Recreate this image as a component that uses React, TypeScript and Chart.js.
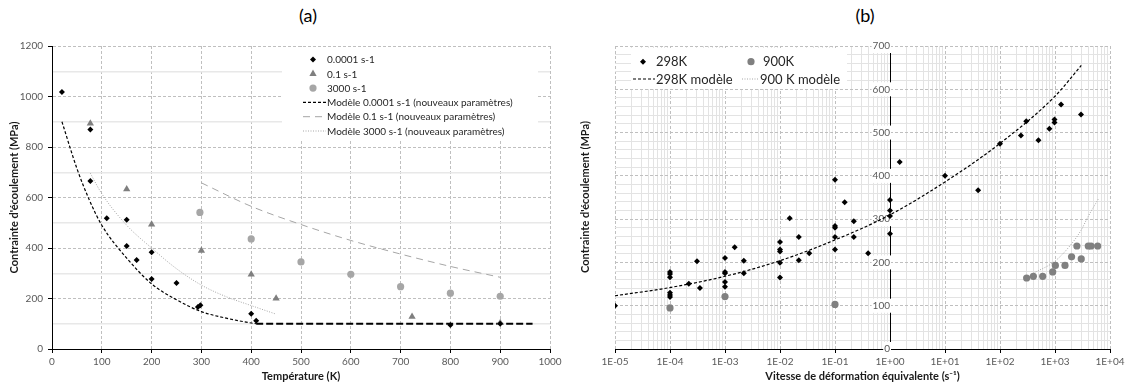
import React, { useEffect, useRef } from 'react';
import { Chart, registerables } from 'chart.js';

Chart.register(...registerables);

const FONT = 'Lato, "Open Sans", "DejaVu Sans", sans-serif';
const TICK_COLOR = '#595959';
const TITLE_COLOR = '#1a1a1a';
const TEXT_COLOR = '#262626';
const GRID_MAJOR = '#BFBFBF';
const GRID_MINOR = '#E3E3E3';

// ---------------- Chart (a) ----------------
const TITLE_A = '(a)';
const X_TITLE_A = 'Température (K)';
const Y_TITLE = "Contrainte d'écoulement (MPa)";
const TEMP_TICKS = [0, 100, 200, 300, 400, 500, 600, 700, 800, 900, 1000];
const STRESS_A_TICKS = [0, 100, 200, 300, 400, 500, 600, 700, 800, 900, 1000, 1100, 1200];
const STRESS_A_LABEL_STEP = 200;

const LABEL_0001 = '0.0001 s-1';
const T_0001 = [20, 77, 77, 110, 150, 150, 170, 200, 200, 250, 293, 298, 400, 410, 800, 900];
const S_0001 = [1018, 869, 665, 518, 512, 408, 352, 383, 277, 261, 166, 173, 140, 112, 95, 100];

const LABEL_01 = '0.1 s-1';
const T_01 = [77, 150, 200, 300, 400, 450, 723, 900];
const S_01 = [893, 633, 493, 390, 295, 200, 128, 103];

const LABEL_3000 = '3000 s-1';
const T_3000 = [297, 400, 500, 600, 700, 800, 900];
const S_3000 = [541, 436, 345, 296, 247, 221, 209];

const LABEL_M_0001 = 'Modèle 0.0001 s-1 (nouveaux paramètres)';
const TM_0001 = [20, 50, 75, 100, 150, 200, 250, 300, 350, 400, 410];
const SM_0001 = [900, 715, 590, 490, 360, 258, 195, 148, 122, 103, 100];
const TM_0001_PLATEAU = [410, 965];
const SM_0001_PLATEAU = [100, 100];

const LABEL_M_01 = 'Modèle 0.1 s-1 (nouveaux paramètres)';
const TM_01 = [300, 400, 500, 600, 700, 800, 900];
const SM_01 = [658, 565, 493, 430, 376, 327, 284];

const LABEL_M_3000 = 'Modèle 3000 s-1 (nouveaux paramètres)';
const TM_3000 = [77, 100, 150, 200, 250, 300, 350, 400, 450];
const SM_3000 = [696, 615, 490, 400, 318, 253, 207, 172, 138];

// ---------------- Chart (b) ----------------
const TITLE_B = '(b)';
const X_TITLE_B = 'Vitesse de déformation équivalente (s⁻¹)';
const RATE_DECADES = [-5, -4, -3, -2, -1, 0, 1, 2, 3, 4];
const RATE_MINOR_MULTIPLIERS = [1, 2, 3, 4, 5, 6, 7, 8, 9];
const STRESS_B_TICKS = [0, 20, 40, 60, 80, 100, 120, 140, 160, 180, 200, 220, 240, 260, 280, 300, 320, 340, 360, 380, 400, 420, 440, 460, 480, 500, 520, 540, 560, 580, 600, 620, 640, 660, 680, 700];
const STRESS_B_LABEL_STEP = 100;

const LABEL_298 = '298K';
const R_298 = [
  1e-5,
  1e-4, 1e-4, 1e-4, 1e-4, 1e-4, 1e-4,
  2.2e-4, 3.1e-4, 3.5e-4,
  1e-3, 1e-3, 1e-3, 1e-3, 1e-3,
  1.5e-3, 2.2e-3, 2.2e-3,
  1e-2, 1e-2, 1e-2, 1e-2, 1e-2,
  1.5e-2, 2.2e-2, 2.2e-2, 3.4e-2,
  0.1, 0.1, 0.1, 0.1, 0.1,
  0.15, 0.22, 0.22, 0.4,
  1, 1, 1, 1,
  1.5, 10, 40, 100, 240, 300, 500, 790, 980, 980, 1290, 2970,
];
const S_298 = [
  100,
  178, 173, 166, 130, 125, 120,
  151, 203, 141,
  210, 178, 175, 155, 144,
  235, 204, 175,
  247, 230, 225, 199, 165,
  302, 259, 205, 221,
  391, 284, 280, 259, 230,
  339, 295, 259, 221,
  344, 320, 307, 266,
  432, 400, 367, 474, 493, 526, 482, 509, 530, 523, 565, 542,
];

const LABEL_900 = '900K';
const R_900 = [1e-4, 1e-3, 0.1, 305, 404, 597, 908, 1015, 1520, 2000, 2500, 3000, 4030, 4520, 5970];
const S_900 = [95, 121, 103, 164, 168, 168, 178, 193, 193, 213, 238, 208, 238, 238, 238];

const LABEL_M_298 = '298K modèle';
const RM_298 = [1e-5, 1e-4, 1e-3, 1e-2, 0.1, 1, 10, 100, 1000, 3000];
const SM_298 = [123, 142, 168, 204, 252, 310, 386, 475, 584, 655];

const LABEL_M_900 = '900 K modèle';
const RM_900 = [404, 1000, 2000, 3000, 4000, 6100];
const SM_900 = [175, 203, 243, 275, 306, 346];

// ---------------- helpers ----------------
const pts = (xs: number[], ys: number[]) => xs.map((x, i) => ({ x, y: ys[i] }));
const isDecade = (v: number) => Math.abs(Math.log10(v) - Math.round(Math.log10(v))) < 1e-6;
const fmtDecade = (v: number) => {
  const e = Math.round(Math.log10(v));
  const s = e < 0 ? '-' : '+';
  return `1E${s}${String(Math.abs(e)).padStart(2, '0')}`;
};
const RATE_TICKS: number[] = [];
RATE_DECADES.forEach((e) => {
  if (e === RATE_DECADES[RATE_DECADES.length - 1]) {
    RATE_TICKS.push(Number(`1e${e}`));
  } else {
    RATE_MINOR_MULTIPLIERS.forEach((m) => RATE_TICKS.push(Number(`${m}e${e}`)));
  }
});

function drawMarker(ctx: CanvasRenderingContext2D, style: string, x: number, y: number, r: number, color: string) {
  ctx.save();
  ctx.fillStyle = color;
  ctx.beginPath();
  if (style === 'rectRot') {
    ctx.moveTo(x, y - r);
    ctx.lineTo(x + r, y);
    ctx.lineTo(x, y + r);
    ctx.lineTo(x - r, y);
    ctx.closePath();
  } else if (style === 'triangle') {
    const h = r * 1.5;
    const w = r * Math.sqrt(3);
    ctx.moveTo(x, y - r);
    ctx.lineTo(x + w / 2, y - r + h);
    ctx.lineTo(x - w / 2, y - r + h);
    ctx.closePath();
  } else {
    ctx.arc(x, y, r, 0, Math.PI * 2);
  }
  ctx.fill();
  ctx.restore();
}

type LegendRow = { ds: number; y: number; markerX?: number; lineFrom?: number; lineTo?: number; textX: number };
type LegendCfg = {
  box: [number, number, number, number];
  size: number;
  rows: LegendRow[];
  yTitle?: { text: string; x: number; y: number; size: number };
};

function makeLegendPlugin(cfg: LegendCfg) {
  return {
    id: 'sketchLegend',
    afterDraw(chart: any) {
      const ctx: CanvasRenderingContext2D = chart.ctx;
      ctx.save();
      ctx.fillStyle = '#ffffff';
      ctx.fillRect(cfg.box[0], cfg.box[1], cfg.box[2], cfg.box[3]);
      ctx.font = `${cfg.size}px ${FONT}`;
      ctx.textBaseline = 'middle';
      ctx.textAlign = 'left';
      for (const row of cfg.rows) {
        const ds = chart.data.datasets[row.ds];
        if (ds.showLine) {
          ctx.save();
          ctx.strokeStyle = ds.borderColor;
          ctx.lineWidth = ds.borderWidth;
          ctx.setLineDash(ds.borderDash || []);
          ctx.beginPath();
          ctx.moveTo(row.lineFrom as number, row.y);
          ctx.lineTo(row.lineTo as number, row.y);
          ctx.stroke();
          ctx.restore();
        } else {
          drawMarker(ctx, ds.pointStyle, row.markerX as number, row.y, ds.pointRadius, ds.backgroundColor);
        }
        ctx.fillStyle = TEXT_COLOR;
        ctx.fillText(ds.label, row.textX, row.y + 0.5);
      }
      if (cfg.yTitle) {
        const t = cfg.yTitle;
        ctx.save();
        ctx.translate(t.x, t.y);
        ctx.rotate(-Math.PI / 2);
        ctx.font = `bold ${t.size}px ${FONT}`;
        ctx.fillStyle = TITLE_COLOR;
        ctx.textAlign = 'center';
        ctx.textBaseline = 'middle';
        ctx.fillText(t.text, 0, 0);
        ctx.restore();
      }
      ctx.restore();
    },
  };
}

const tickFont = { family: FONT, size: 10 };
const axisTitleFont = { family: FONT, size: 11, weight: 'bold' as const };

function buildChartA(canvas: HTMLCanvasElement) {
  const datasets: any[] = [
    { label: LABEL_0001, data: pts(T_0001, S_0001), pointStyle: 'rectRot', pointRadius: 3, backgroundColor: '#000000', borderColor: '#000000', borderWidth: 0, showLine: false },
    { label: LABEL_01, data: pts(T_01, S_01), pointStyle: 'triangle', pointRadius: 4.2, backgroundColor: '#7F7F7F', borderColor: '#7F7F7F', borderWidth: 0, showLine: false },
    { label: LABEL_3000, data: pts(T_3000, S_3000), pointStyle: 'circle', pointRadius: 3.6, backgroundColor: '#A6A6A6', borderColor: '#A6A6A6', borderWidth: 0, showLine: false },
    { label: LABEL_M_0001, data: pts(TM_0001, SM_0001), showLine: true, pointRadius: 0, borderColor: '#000000', borderWidth: 1.2, borderDash: [3, 2], cubicInterpolationMode: 'monotone' },
    { label: LABEL_M_01, data: pts(TM_01, SM_01), showLine: true, pointRadius: 0, borderColor: '#A6A6A6', borderWidth: 1, borderDash: [7, 5], cubicInterpolationMode: 'monotone' },
    { label: LABEL_M_3000, data: pts(TM_3000, SM_3000), showLine: true, pointRadius: 0, borderColor: '#A6A6A6', borderWidth: 1, borderDash: [1, 1.5], cubicInterpolationMode: 'monotone' },
    { label: '', data: pts(TM_0001_PLATEAU, SM_0001_PLATEAU), showLine: true, pointRadius: 0, borderColor: '#000000', borderWidth: 2, borderDash: [7, 3] },
  ];
  const legend = makeLegendPlugin({
    box: [282, 47, 256, 93],
    size: 10,
    rows: [
      { ds: 0, y: 59.5, markerX: 313, textX: 327 },
      { ds: 1, y: 73.8, markerX: 313, textX: 327 },
      { ds: 2, y: 88.1, markerX: 313, textX: 327 },
      { ds: 3, y: 102.4, lineFrom: 303, lineTo: 326, textX: 327 },
      { ds: 4, y: 116.7, lineFrom: 303, lineTo: 326, textX: 327 },
      { ds: 5, y: 131, lineFrom: 303, lineTo: 326, textX: 327 },
    ],
  });
  return new Chart(canvas, {
    type: 'scatter',
    data: { datasets },
    plugins: [legend],
    options: {
      responsive: false,
      animation: false,
      events: [],
      layout: { padding: { top: 46, right: 15, left: 0, bottom: 0 } },
      plugins: { legend: { display: false }, tooltip: { enabled: false }, title: { display: false } },
      scales: {
        x: {
          type: 'linear',
          min: 0,
          max: 1000,
          afterBuildTicks: (s: any) => { s.ticks = TEMP_TICKS.map((v) => ({ value: v })); },
          afterFit: (s: any) => { s.height = 40; },
          ticks: { font: tickFont, color: TICK_COLOR, autoSkip: false, maxRotation: 0, padding: 3, callback: (v: any) => String(v) },
          grid: { color: GRID_MAJOR, lineWidth: 1, tickLength: 4, tickColor: '#000000', drawTicks: true },
          border: { color: '#000000', width: 1, dash: [3, 2] },
          title: { display: true, text: X_TITLE_A, font: axisTitleFont, color: TITLE_COLOR, padding: { top: 0, bottom: 6 } },
        },
        y: {
          type: 'linear',
          min: 0,
          max: 1200,
          afterBuildTicks: (s: any) => { s.ticks = STRESS_A_TICKS.map((v) => ({ value: v })); },
          afterFit: (s: any) => { s.width = 52; },
          ticks: {
            font: tickFont,
            color: TICK_COLOR,
            autoSkip: false,
            padding: 5,
            callback: (v: any) => (Number(v) % STRESS_A_LABEL_STEP === 0 ? String(v) : ''),
          },
          grid: {
            color: (c: any) => (c.tick && c.tick.value % STRESS_A_LABEL_STEP !== 0 ? '#E8E8E8' : GRID_MAJOR),
            lineWidth: (c: any) => (c.tick && c.tick.value % STRESS_A_LABEL_STEP !== 0 ? 1.5 : 1),
            tickColor: (c: any) => (c.tick && c.tick.value % STRESS_A_LABEL_STEP !== 0 ? 'rgba(0,0,0,0)' : '#000000'),
            tickLength: 4,
          },
          border: {
            color: '#000000',
            width: 1,
            dash: (c: any) => (c.tick && c.tick.value % STRESS_A_LABEL_STEP !== 0 ? [] : [3, 2]),
          },
          title: { display: true, text: Y_TITLE, font: axisTitleFont, color: TITLE_COLOR, padding: { top: 8, bottom: 0 } },
        },
      },
    } as any,
  });
}

function buildChartB(canvas: HTMLCanvasElement) {
  const datasets: any[] = [
    { label: LABEL_298, data: pts(R_298, S_298), pointStyle: 'rectRot', pointRadius: 3, backgroundColor: '#000000', borderColor: '#000000', borderWidth: 0, showLine: false },
    { label: LABEL_900, data: pts(R_900, S_900), pointStyle: 'circle', pointRadius: 3.6, backgroundColor: '#808080', borderColor: '#808080', borderWidth: 0, showLine: false },
    { label: LABEL_M_298, data: pts(RM_298, SM_298), showLine: true, pointRadius: 0, borderColor: '#000000', borderWidth: 1.2, borderDash: [3, 2], cubicInterpolationMode: 'monotone' },
    { label: LABEL_M_900, data: pts(RM_900, SM_900), showLine: true, pointRadius: 0, borderColor: '#A6A6A6', borderWidth: 1, borderDash: [1, 1.5], cubicInterpolationMode: 'monotone' },
  ];
  const legend = makeLegendPlugin({
    box: [66, 48, 216, 41],
    size: 13,
    rows: [
      { ds: 0, y: 61.7, markerX: 78, textX: 91 },
      { ds: 1, y: 61.7, markerX: 186, textX: 198 },
      { ds: 2, y: 79, lineFrom: 68, lineTo: 90, textX: 91 },
      { ds: 3, y: 79, lineFrom: 177, lineTo: 194, textX: 195 },
    ],
    yTitle: { text: Y_TITLE, x: 20, y: 197, size: 11 },
  });
  return new Chart(canvas, {
    type: 'scatter',
    data: { datasets },
    plugins: [legend],
    options: {
      responsive: false,
      animation: false,
      events: [],
      layout: { padding: { top: 46, right: 20, left: 50, bottom: 0 } },
      plugins: { legend: { display: false }, tooltip: { enabled: false }, title: { display: false } },
      scales: {
        x: {
          type: 'logarithmic',
          min: 1e-5,
          max: 1e4,
          afterBuildTicks: (s: any) => { s.ticks = RATE_TICKS.map((v) => ({ value: v })); },
          afterFit: (s: any) => { s.height = 40; },
          ticks: {
            font: tickFont,
            color: TICK_COLOR,
            autoSkip: false,
            maxRotation: 0,
            padding: 3,
            callback: (v: any) => (isDecade(Number(v)) ? fmtDecade(Number(v)) : ''),
          },
          grid: {
            color: (c: any) => (c.tick && !isDecade(c.tick.value) ? GRID_MINOR : GRID_MAJOR),
            lineWidth: 1,
            tickColor: (c: any) => (c.tick && !isDecade(c.tick.value) ? 'rgba(0,0,0,0)' : '#000000'),
            tickLength: 4,
          },
          border: {
            color: '#000000',
            width: 1,
            dash: (c: any) => (c.tick && !isDecade(c.tick.value) ? [] : [3, 2]),
          },
          title: { display: true, text: X_TITLE_B, font: axisTitleFont, color: TITLE_COLOR, padding: { top: 0, bottom: 6 } },
        },
        y: {
          type: 'linear',
          min: 0,
          max: 700,
          position: { x: 1 },
          afterBuildTicks: (s: any) => { s.ticks = STRESS_B_TICKS.map((v) => ({ value: v })); },
          ticks: {
            font: tickFont,
            color: TICK_COLOR,
            autoSkip: false,
            padding: 5,
            showLabelBackdrop: (c: any) => !!(c.tick && c.tick.value % STRESS_B_LABEL_STEP === 0),
            backdropColor: '#ffffff',
            backdropPadding: 1,
            callback: (v: any) => (Number(v) % STRESS_B_LABEL_STEP === 0 ? String(v) : ''),
          },
          grid: {
            color: (c: any) => (c.tick && c.tick.value % STRESS_B_LABEL_STEP !== 0 ? GRID_MINOR : GRID_MAJOR),
            lineWidth: 1,
            tickColor: (c: any) => (c.tick && c.tick.value % STRESS_B_LABEL_STEP !== 0 ? 'rgba(0,0,0,0)' : '#000000'),
            tickLength: 4,
          },
          border: {
            color: '#000000',
            width: 1,
            dash: (c: any) => (c.tick && c.tick.value % STRESS_B_LABEL_STEP !== 0 ? [] : [3, 2]),
          },
          title: { display: false },
        },
      },
    } as any,
  });
}

export default function App() {
  const refA = useRef<HTMLCanvasElement | null>(null);
  const refB = useRef<HTMLCanvasElement | null>(null);

  useEffect(() => {
    const a = refA.current ? buildChartA(refA.current) : null;
    const b = refB.current ? buildChartB(refB.current) : null;
    return () => {
      a?.destroy();
      b?.destroy();
    };
  }, []);

  const titleStyle: React.CSSProperties = {
    position: 'absolute',
    top: 2,
    width: 100,
    textAlign: 'center',
    fontFamily: FONT,
    fontSize: 18,
    lineHeight: '26px',
    color: '#000000',
  };

  return (
    <div style={{ position: 'absolute', left: 0, top: 0, width: 1130, height: 389, background: '#ffffff', overflow: 'hidden' }}>
      <div style={{ ...titleStyle, left: 258 }}>{TITLE_A}</div>
      <div style={{ ...titleStyle, left: 815 }}>{TITLE_B}</div>
      <canvas ref={refA} width={565} height={389} style={{ position: 'absolute', left: 0, top: 0, width: 565, height: 389 }} />
      <canvas ref={refB} width={565} height={389} style={{ position: 'absolute', left: 565, top: 0, width: 565, height: 389 }} />
    </div>
  );
}
